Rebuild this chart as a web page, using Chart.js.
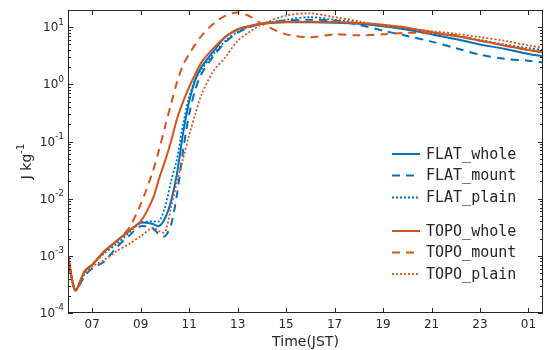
<!DOCTYPE html>
<html>
<head>
<meta charset="utf-8">
<script src="https://cdn.jsdelivr.net/npm/chart.js@4"></script>
<style>
html,body{margin:0;padding:0;background:#fff;}
#wrap{width:547px;height:350px;}
</style>
</head>
<body>
<div id="wrap"><canvas id="energyChart"></canvas></div>
<script>
// time in hours JST (25 = 01 next day)
var hours = [6, 6.3, 6.7, 7, 7.5, 8, 8.5, 9, 9.5, 9.75, 10, 10.25, 10.5, 10.75, 11, 11.25, 11.5, 12, 12.5, 13, 13.5, 14, 15, 16, 17, 18, 19, 20, 21, 22, 23, 24, 25, 25.6];

var flatWhole = [1e-3, 2.5e-4, 5.5e-4, 7e-4, 1.2e-3, 1.8e-3, 2.7e-3, 3.8e-3, 3.6e-3, 3.3e-3, 4.5e-3, 9e-3, 0.028, 0.14, 0.5, 1.2, 2.0, 3.8, 6.8, 9.1, 10.5, 11.5, 12.2, 12.2, 12, 11.5, 10.4, 9, 7.5, 6.2, 5, 4.2, 3.4, 3.1];
var flatMount = [1e-3, 2.5e-4, 4.5e-4, 6e-4, 8e-4, 1.4e-3, 2.2e-3, 3.3e-3, 3e-3, 2.4e-3, 2.2e-3, 3.5e-3, 0.012, 0.07, 0.3, 0.8, 1.5, 3.1, 5.5, 8, 10, 11.5, 13, 13.5, 13, 11, 8.7, 7, 5.6, 4.3, 3.3, 2.8, 2.6, 2.4];
var flatPlain = [1e-3, 2.5e-4, 5e-4, 7e-4, 1.1e-3, 1.6e-3, 2.5e-3, 3.8e-3, 4e-3, 4e-3, 7e-3, 0.02, 0.05, 0.2, 0.6, 1.2, 1.8, 3.4, 5.8, 8.3, 10.2, 11.5, 13.5, 15, 13.5, 12, 10.5, 9.3, 8, 7, 6, 5, 4.3, 4];
var topoWhole = [1e-3, 2.5e-4, 5.5e-4, 7e-4, 1.2e-3, 1.8e-3, 2.7e-3, 4e-3, 0.01, 0.022, 0.045, 0.1, 0.25, 0.5, 0.9, 1.5, 2.4, 4.3, 6.8, 9.2, 10.5, 11.5, 12.3, 12.5, 12.3, 11.8, 11, 9.8, 8.2, 7, 5.8, 4.8, 4.0, 3.6];
var topoMount = [1e-3, 2.5e-4, 5.5e-4, 7e-4, 1.2e-3, 1.8e-3, 3e-3, 8e-3, 0.03, 0.07, 0.18, 0.45, 1.1, 2.2, 3.4, 5.0, 7.0, 11.5, 16, 18, 15.5, 11.5, 7.5, 6.7, 7.5, 7.2, 7.5, 8, 7.8, 7.2, 5.8, 4.8, 4.0, 3.7];
var topoPlain = [1e-3, 2.5e-4, 5e-4, 6.5e-4, 8.5e-4, 1.2e-3, 1.6e-3, 2.2e-3, 3.1e-3, 2.7e-3, 2.6e-3, 7e-3, 0.02, 0.05, 0.13, 0.3, 0.65, 1.7, 3.0, 5.8, 8.3, 11.2, 16, 17.5, 15, 12.7, 10.5, 9.5, 8.5, 7.7, 6.7, 5.8, 4.8, 4.4];

var xTickValues = [7, 9, 11, 13, 15, 17, 19, 21, 23, 25];
var xTickLabels = ['07', '09', '11', '13', '15', '17', '19', '21', '23', '01'];
var yTickExps = [-4, -3, -2, -1, 0, 1];

var blue = '#0072BD';
var orange = '#D95319';
var axisColor = '#262626';

function pts(ys) {
  return hours.map(function(h, i) { return {x: h, y: ys[i]}; });
}

function makeSet(label, ys, color, style, order) {
  var ds = {
    label: label,
    data: pts(ys),
    borderColor: color,
    backgroundColor: color,
    borderWidth: 2,
    pointRadius: 0,
    tension: 0.3,
    fill: false,
    order: order
  };
  if (style === 'dash') ds.borderDash = [8, 6];
  if (style === 'dot') { ds.borderDash = [2, 2]; ds.borderWidth = 1.8; }
  return ds;
}

var datasets = [
  makeSet('FLAT_whole', flatWhole, blue, 'solid', 5),
  makeSet('FLAT_mount', flatMount, blue, 'dash', 4),
  makeSet('FLAT_plain', flatPlain, blue, 'dot', 3),
  makeSet('TOPO_whole', topoWhole, orange, 'solid', 2),
  makeSet('TOPO_mount', topoMount, orange, 'dash', 1),
  makeSet('TOPO_plain', topoPlain, orange, 'dot', 0)
];

// axes box, inward ticks, labels and legend drawn MATLAB-style
var axesPlugin = {
  id: 'matlabAxes',
  afterDraw: function(chart) {
    var c = chart.ctx, a = chart.chartArea;
    var xs = chart.scales.x, ys = chart.scales.y;
    c.save();
    c.strokeStyle = axisColor;
    c.fillStyle = axisColor;
    c.lineWidth = 1;
    c.setLineDash([]);
    c.strokeRect(a.left + 0.5, a.top + 0.5, a.right - a.left - 1, a.bottom - a.top - 1);

    // x ticks
    c.beginPath();
    xTickValues.forEach(function(v) {
      var px = Math.round(xs.getPixelForValue(v)) + 0.5;
      c.moveTo(px, a.bottom); c.lineTo(px, a.bottom - 5);
      c.moveTo(px, a.top); c.lineTo(px, a.top + 5);
    });
    // y ticks major + minor
    yTickExps.forEach(function(e) {
      for (var k = 1; k <= 9; k++) {
        var v = k * Math.pow(10, e);
        if (v > ys.max || v < ys.min) continue;
        var py = Math.round(ys.getPixelForValue(v)) + 0.5;
        var len = k === 1 ? 5 : 3;
        c.moveTo(a.left, py); c.lineTo(a.left + len, py);
        c.moveTo(a.right, py); c.lineTo(a.right - len, py);
      }
    });
    c.stroke();

    // x labels
    c.font = '12px "DejaVu Sans"';
    c.textAlign = 'center';
    c.textBaseline = 'middle';
    xTickValues.forEach(function(v, i) {
      c.fillText(xTickLabels[i], xs.getPixelForValue(v), a.bottom + 12);
    });
    c.font = '14px "DejaVu Sans"';
    c.fillText('Time(JST)', (a.left + a.right) / 2, a.bottom + 29);

    // y labels 10^e
    c.textAlign = 'left';
    yTickExps.forEach(function(e) {
      var py = ys.getPixelForValue(Math.pow(10, e));
      c.font = '12px "DejaVu Sans"';
      var wb = c.measureText('10').width;
      c.font = '9px "DejaVu Sans"';
      var ex = String(e);
      var we = c.measureText(ex).width;
      var x0 = a.left - 4 - wb - we;
      c.font = '12px "DejaVu Sans"';
      c.fillText('10', x0, py + 1);
      c.font = '9px "DejaVu Sans"';
      c.fillText(ex, x0 + wb, py - 5);
    });

    // y title
    c.save();
    c.translate(27, (a.top + a.bottom) / 2);
    c.rotate(-Math.PI / 2);
    c.font = '14px "DejaVu Sans"';
    var t1 = 'J kg';
    var w1 = c.measureText(t1).width;
    c.font = '10px "DejaVu Sans"';
    var w2 = c.measureText('-1').width;
    var sx = -(w1 + w2) / 2;
    c.font = '14px "DejaVu Sans"';
    c.fillText(t1, sx, 0);
    c.font = '10px "DejaVu Sans"';
    c.fillText('-1', sx + w1, -6);
    c.restore();

    // legend
    var rowsY = [154, 175.5, 197.5, 231, 252.5, 274];
    c.font = '15px "DejaVu Sans Mono"';
    c.textBaseline = 'middle';
    chart.data.datasets.forEach(function(ds, i) {
      var y = rowsY[i];
      c.strokeStyle = ds.borderColor;
      c.lineWidth = ds.borderWidth;
      c.setLineDash(ds.borderDash || []);
      c.beginPath();
      c.moveTo(392, y); c.lineTo(420, y);
      c.stroke();
      c.fillStyle = axisColor;
      c.fillText(ds.label, 426, y + 1);
    });
    c.restore();
  }
};

var chart = new Chart(document.getElementById('energyChart'), {
  type: 'line',
  data: { datasets: datasets },
  options: {
    responsive: true,
    maintainAspectRatio: false,
    animation: false,
    layout: { padding: { left: 68, right: 4, top: 10, bottom: 37 } },
    plugins: { legend: { display: false }, tooltip: { enabled: false } },
    scales: {
      x: { type: 'linear', min: 6, max: 25.6, display: false },
      y: { type: 'logarithmic', min: 1e-4, max: 20, display: false }
    }
  },
  plugins: [axesPlugin]
});
</script>
</body>
</html>
